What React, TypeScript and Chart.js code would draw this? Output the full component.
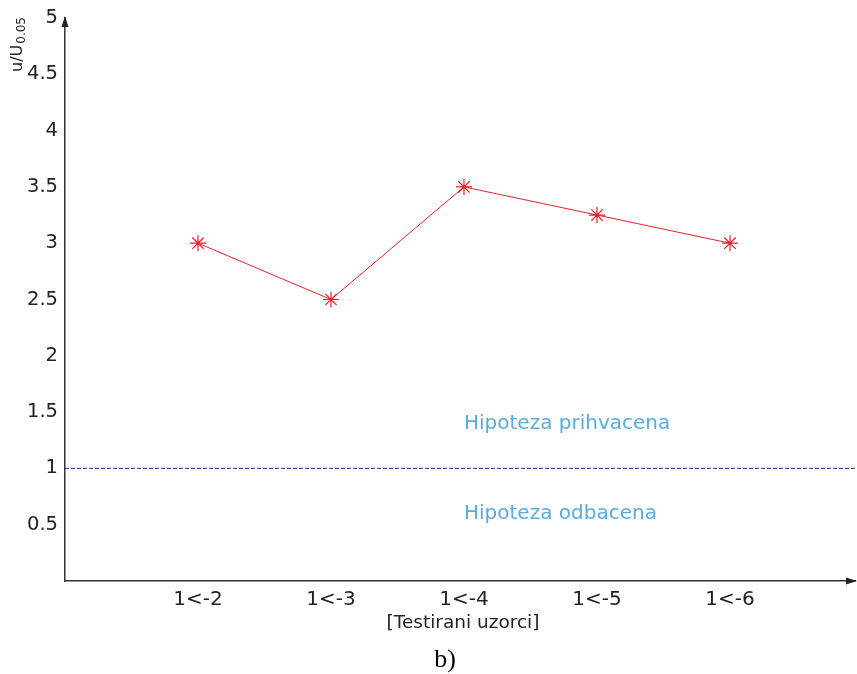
import React, { useEffect, useRef } from "react";
import { Chart, registerables } from "chart.js";

Chart.register(...registerables);

const categories = ["1<-2", "1<-3", "1<-4", "1<-5", "1<-6"];
const ratios = [3.0, 2.5, 3.5, 3.25, 3.0];
const thresholdValue = 1;
const yTicks = [0.5, 1, 1.5, 2, 2.5, 3, 3.5, 4, 4.5, 5];
const annotationTexts = ["Hipoteza prihvacena", "Hipoteza odbacena"];
const annotationX = [3, 3];
const annotationY = [1.4, 0.6];
const xTitle = "[Testirani uzorci]";
const yTitleMain = "u/U";
const yTitleSub = "0.05";
const caption = "b)";

const X_MAX = 5.94;

const decorPlugin = {
  id: "decor",
  afterDraw(chart: any) {
    const { ctx, chartArea, scales } = chart;
    const { left, right, top, bottom } = chartArea;
    ctx.save();
    // arrows
    ctx.fillStyle = "#222";
    ctx.beginPath();
    ctx.moveTo(left, top - 2);
    ctx.lineTo(left - 3.5, top + 9);
    ctx.lineTo(left + 3.5, top + 9);
    ctx.closePath();
    ctx.fill();
    ctx.beginPath();
    ctx.moveTo(right + 2, bottom);
    ctx.lineTo(right - 9, bottom - 3.5);
    ctx.lineTo(right - 9, bottom + 3.5);
    ctx.closePath();
    ctx.fill();

    // annotations
    ctx.font = "20px 'DejaVu Sans'";
    ctx.fillStyle = "#5aabde";
    ctx.textAlign = "left";
    ctx.textBaseline = "middle";
    annotationTexts.forEach((t, i) => {
      ctx.fillText(t, scales.x.getPixelForValue(annotationX[i]), scales.y.getPixelForValue(annotationY[i]));
    });

    // x title
    ctx.font = "18.5px 'DejaVu Sans'";
    ctx.fillStyle = "#222";
    ctx.textAlign = "center";
    ctx.fillText(xTitle, 463, 623);

    // caption
    ctx.font = "26px 'Liberation Serif'";
    ctx.fillStyle = "#000";
    ctx.fillText(caption, 445, 660);

    // y title rotated with subscript
    ctx.translate(22, 72);
    ctx.rotate(-Math.PI / 2);
    ctx.textAlign = "left";
    ctx.textBaseline = "alphabetic";
    ctx.fillStyle = "#222";
    ctx.font = "16px 'DejaVu Sans'";
    ctx.fillText(yTitleMain, 0, 0);
    const w = ctx.measureText(yTitleMain).width;
    ctx.font = "12px 'DejaVu Sans'";
    ctx.fillText(yTitleSub, w + 1, 3);
    ctx.restore();
  },
};

export default function App() {
  const ref = useRef<HTMLCanvasElement>(null);
  useEffect(() => {
    if (!ref.current) return;
    const chart = new Chart(ref.current, {
      type: "line",
      data: {
        datasets: [
          {
            data: ratios.map((v, i) => ({ x: i + 1, y: v })),
            borderColor: "#e8202a",
            borderWidth: 1,
            pointStyle: "star",
            pointRadius: 8,
            pointBorderColor: "#e8202a",
            pointBorderWidth: 1.2,
            pointBackgroundColor: "#e8202a",
          },
          {
            data: [
              { x: 0, y: thresholdValue },
              { x: X_MAX, y: thresholdValue },
            ],
            borderColor: "#2b2b9a",
            borderWidth: 1,
            borderDash: [4, 2],
            pointRadius: 0,
          },
        ],
      },
      options: {
        animation: false,
        responsive: false,
        layout: { autoPadding: false, padding: { top: 18, right: 2, left: 0, bottom: 0 } },
        plugins: { legend: { display: false }, tooltip: { enabled: false }, title: { display: false } },
        scales: {
          x: {
            type: "linear",
            min: 0,
            max: X_MAX,
            grid: { display: false, drawTicks: false },
            border: { display: true, color: "#333", width: 1.5 },
            ticks: {
              stepSize: 1,
              autoSkip: false,
              maxRotation: 0,
              padding: 7,
              color: "#222",
              font: { family: "DejaVu Sans", size: 20 },
              callback: (v: any) => (Number.isInteger(v) && categories[v - 1]) ? categories[v - 1] : "",
            },
            afterFit: (s: any) => {
              s.height = 93;
              s.paddingLeft = 0;
              s.paddingRight = 0;
            },
          },
          y: {
            type: "linear",
            min: 0,
            max: 5,
            grid: { display: false, drawTicks: false },
            border: { display: true, color: "#333", width: 1.5 },
            afterBuildTicks: (s: any) => {
              s.ticks = [{ value: 0 }, ...yTicks.map((v) => ({ value: v }))];
            },
            ticks: {
              padding: 7,
              color: "#222",
              font: { family: "DejaVu Sans", size: 19.5 },
              callback: (v: any) => (v === 0 ? "" : String(v)),
            },
            afterFit: (s: any) => {
              s.width = 65;
              s.paddingTop = 0;
              s.paddingBottom = 0;
            },
          },
        },
      },
      plugins: [decorPlugin],
    });
    return () => chart.destroy();
  }, []);
  return (
    <div style={{ position: "fixed", left: 0, top: 0, width: 857, height: 674, background: "#fff" }}>
      <canvas ref={ref} width={857} height={674} />
    </div>
  );
}
